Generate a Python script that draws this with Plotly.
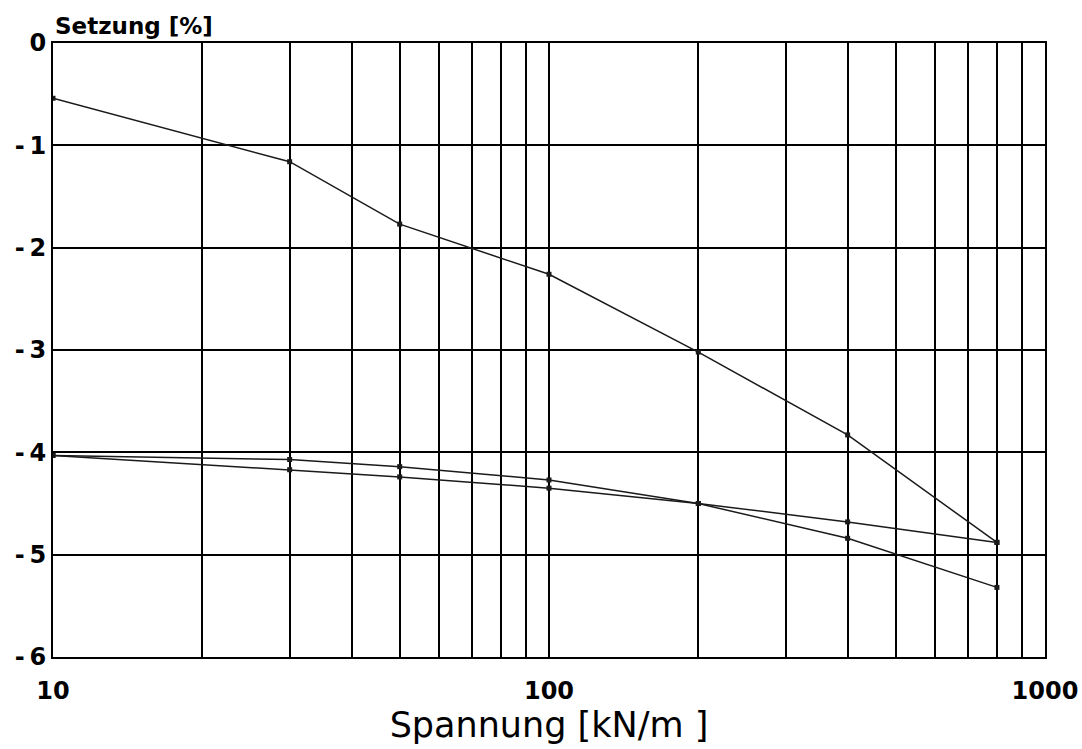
import plotly.graph_objects as go

spannung = [10, 30, 50, 100, 200, 400, 800]
setzung_a = [-0.54, -1.16, -1.77, -2.26, -3.02, -3.83, -4.88]
setzung_b = [-4.03, -4.07, -4.14, -4.27, -4.50, -4.68, -4.88]
setzung_c = [-4.03, -4.17, -4.24, -4.35, -4.50, -4.84, -5.32]

x_grid = [10, 20, 30, 40, 50, 60, 70, 80, 90, 100, 200, 300, 400, 500, 600, 700, 800, 900, 1000]
x_labels = ["10", "", "", "", "", "", "", "", "", "100", "", "", "", "", "", "", "", "", "1000"]
y_vals = [0, -1, -2, -3, -4, -5, -6]
y_labels = ["0", "-\u20091", "-\u20092", "-\u20093", "-\u20094", "-\u20095", "-\u20096"]

font_family = "DejaVu Sans, Liberation Sans, Arial, sans-serif"

fig = go.Figure()
for ys in (setzung_a, setzung_b, setzung_c):
    fig.add_trace(go.Scatter(
        x=spannung, y=ys, mode="lines+markers",
        line=dict(color="#1a1a1a", width=1.5),
        marker=dict(symbol="square", size=5, color="#1a1a1a"),
        showlegend=False, hoverinfo="x+y",
    ))

fig.update_layout(
    width=1082, height=749,
    margin=dict(l=53, r=37, t=43, b=92),
    paper_bgcolor="white", plot_bgcolor="white",
    font=dict(family=font_family, color="black"),
    xaxis=dict(
        type="log", range=[1, 3], automargin=False,
        tickvals=x_grid, ticktext=x_labels, tickformat=".0f",
        showgrid=True, gridcolor="black", gridwidth=1.8,
        showline=True, linecolor="black", linewidth=2.2, mirror=True,
        ticks="", zeroline=False,
        tickfont=dict(size=24, weight="bold", family=font_family),
        ticklabelstandoff=11,
        title=dict(text="Spannung [kN/m ]", font=dict(size=35, family=font_family), standoff=0),
    ),
    yaxis=dict(
        range=[-6, 0], automargin=False,
        tickvals=y_vals, ticktext=y_labels,
        showgrid=True, gridcolor="black", gridwidth=1.8,
        showline=True, linecolor="black", linewidth=2.2, mirror=True,
        ticks="", zeroline=False,
        tickfont=dict(size=24, weight="bold", family=font_family),
        ticklabelstandoff=0,
    ),
    annotations=[dict(
        text="Setzung [%]", xref="paper", yref="paper",
        x=0, y=1, xanchor="left", yanchor="bottom", yshift=2,
        showarrow=False, font=dict(size=23, weight="bold", family=font_family),
    )],
)

fig.write_html("out.html")
